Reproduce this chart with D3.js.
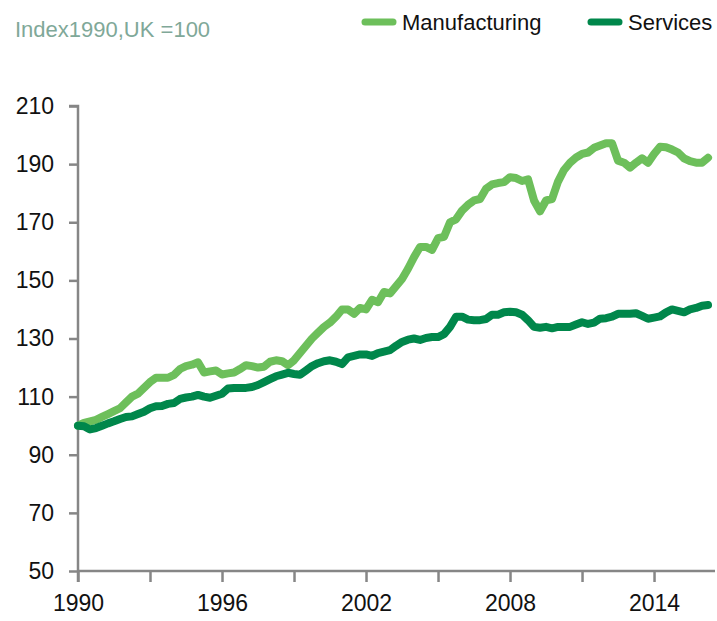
<!DOCTYPE html>
<html>
<head>
<meta charset="utf-8">
<script src="https://cdn.jsdelivr.net/npm/d3@7"></script>
<style>
  body { margin: 0; background: #fff; }
  svg { display: block; font-family: "Liberation Sans", Arial, sans-serif; }
</style>
</head>
<body>
<svg id="chart" width="717" height="621"></svg>
<script>
// quarterly index, 1990 Q1 .. 2016 Q2 (UK 1990 = 100)
var quarters = d3.range(0, 106).map(function (i) { return 1990 + i / 4; });

var manufacturing = [
    100, 101, 101.5, 102, 103, 104, 105, 106, 108, 110,
    111, 113, 115, 116.5, 116.5, 116.5, 117.5, 119.5, 120.5, 121,
    121.8, 118.3, 118.7, 119, 117.6, 118, 118.3, 119.5, 120.8, 120.5,
    120, 120.3, 122, 122.5, 122.2, 120.8, 122.5, 125, 127.5, 130,
    132, 134, 135.5, 137.5, 140, 140, 138.5, 140.5, 140, 143.3,
    142.5, 146, 145.5, 148, 150.5, 154, 158, 161.5, 161.5, 160.5,
    164.5, 165, 170, 171, 174, 176, 177.5, 178, 181.5, 183,
    183.5, 183.8, 185.5, 185.2, 184.2, 184.8, 177.5, 173.8, 177.5, 178,
    184, 188, 190.5, 192.3, 193.5, 194, 195.6, 196.4, 197.2, 197.2,
    191.2, 190.5, 188.8, 190.5, 192, 190.5, 193.5, 196, 195.8, 195,
    194, 192, 191, 190.5, 190.5, 192.2
];

var services = [
    100, 99.8, 98.7, 99.2, 100, 100.8, 101.5, 102.3, 103, 103.2,
    104, 104.8, 106, 106.7, 106.8, 107.5, 107.8, 109.2, 109.7, 110,
    110.6, 110, 109.6, 110.3, 111, 112.8, 113, 113, 113, 113.3,
    114, 115, 116, 117, 117.6, 118.2, 117.8, 117.5, 119, 120.5,
    121.5, 122.2, 122.5, 122, 121.2, 123.5, 124, 124.5, 124.5, 124,
    125, 125.5, 126, 127.5, 128.8, 129.6, 130, 129.5, 130.2, 130.5,
    130.5, 131.5, 134, 137.5, 137.5, 136.5, 136.3, 136.3, 136.7, 138.2,
    138.2, 139, 139.2, 139, 138.2, 136.3, 134, 133.7, 134, 133.5,
    134, 134, 134, 134.8, 135.6, 135, 135.5, 136.8, 137, 137.5,
    138.5, 138.5, 138.5, 138.7, 137.8, 136.8, 137.2, 137.6, 139, 140,
    139.5, 139, 140, 140.5, 141.3, 141.5
];

var yTicks = [50, 70, 90, 110, 130, 150, 170, 190, 210];
var xTicks = [1990, 1993, 1996, 1999, 2002, 2005, 2008, 2011, 2014];
var xLabels = [1990, 1996, 2002, 2008, 2014];

var seriesList = [
    { name: "Manufacturing", values: manufacturing, color: "#6dbf5b" },
    { name: "Services", values: services, color: "#00874b" }
];

var svg = d3.select("#chart");
var axisColor = "#868686";
var fontSize = 23;

var x = d3.scaleLinear().domain([1990, 2016.54]).range([78, 715]);
var y = d3.scaleLinear().domain([50, 210]).range([571, 106]);

// y axis
var yAxis = svg.append("g").attr("transform", "translate(78,0)")
    .call(d3.axisLeft(y).tickValues(yTicks).tickSize(9).tickPadding(15));
yAxis.select(".domain").attr("stroke", axisColor).attr("stroke-width", 2.5)
    .attr("d", "M-9," + y(210) + "H0V" + (y(50) + 11));
yAxis.selectAll(".tick line").attr("stroke", axisColor).attr("stroke-width", 2.5);
yAxis.selectAll(".tick text").attr("fill", "#111").attr("font-size", fontSize);

// x axis
var xAxis = svg.append("g").attr("transform", "translate(0,571)")
    .call(d3.axisBottom(x).tickValues(xTicks).tickSize(11).tickPadding(13)
        .tickFormat(function (d) { return xLabels.indexOf(d) >= 0 ? d : ""; }));
xAxis.select(".domain").attr("stroke", axisColor).attr("stroke-width", 2.5)
    .attr("d", "M78,0H715");
xAxis.selectAll(".tick line").attr("stroke", axisColor).attr("stroke-width", 2.5);
xAxis.selectAll(".tick text").attr("fill", "#111").attr("font-size", fontSize);

// lines
var line = d3.line()
    .x(function (d, i) { return x(quarters[i]); })
    .y(function (d) { return y(d); });

svg.selectAll(".series")
    .data(seriesList)
    .enter().append("path")
    .attr("class", "series")
    .attr("d", function (s) { return line(s.values); })
    .attr("fill", "none")
    .attr("stroke", function (s) { return s.color; })
    .attr("stroke-width", 8)
    .attr("stroke-linejoin", "round")
    .attr("stroke-linecap", "round");

// unit label
svg.append("text")
    .attr("x", 15).attr("y", 37)
    .attr("font-size", 22)
    .attr("fill", "#80a898")
    .text("Index1990,UK =100");

// legend
var legendX = [365, 591];
var legend = svg.selectAll(".legend")
    .data(seriesList)
    .enter().append("g")
    .attr("class", "legend")
    .attr("transform", function (d, i) { return "translate(" + legendX[i] + ",22)"; });
legend.append("line")
    .attr("x1", 0).attr("x2", 28).attr("y1", 0).attr("y2", 0)
    .attr("stroke", function (d) { return d.color; })
    .attr("stroke-width", 7)
    .attr("stroke-linecap", "round");
legend.append("text")
    .attr("x", 37).attr("y", 8)
    .attr("font-size", 22)
    .attr("fill", "#111")
    .text(function (d) { return d.name; });
</script>
</body>
</html>
